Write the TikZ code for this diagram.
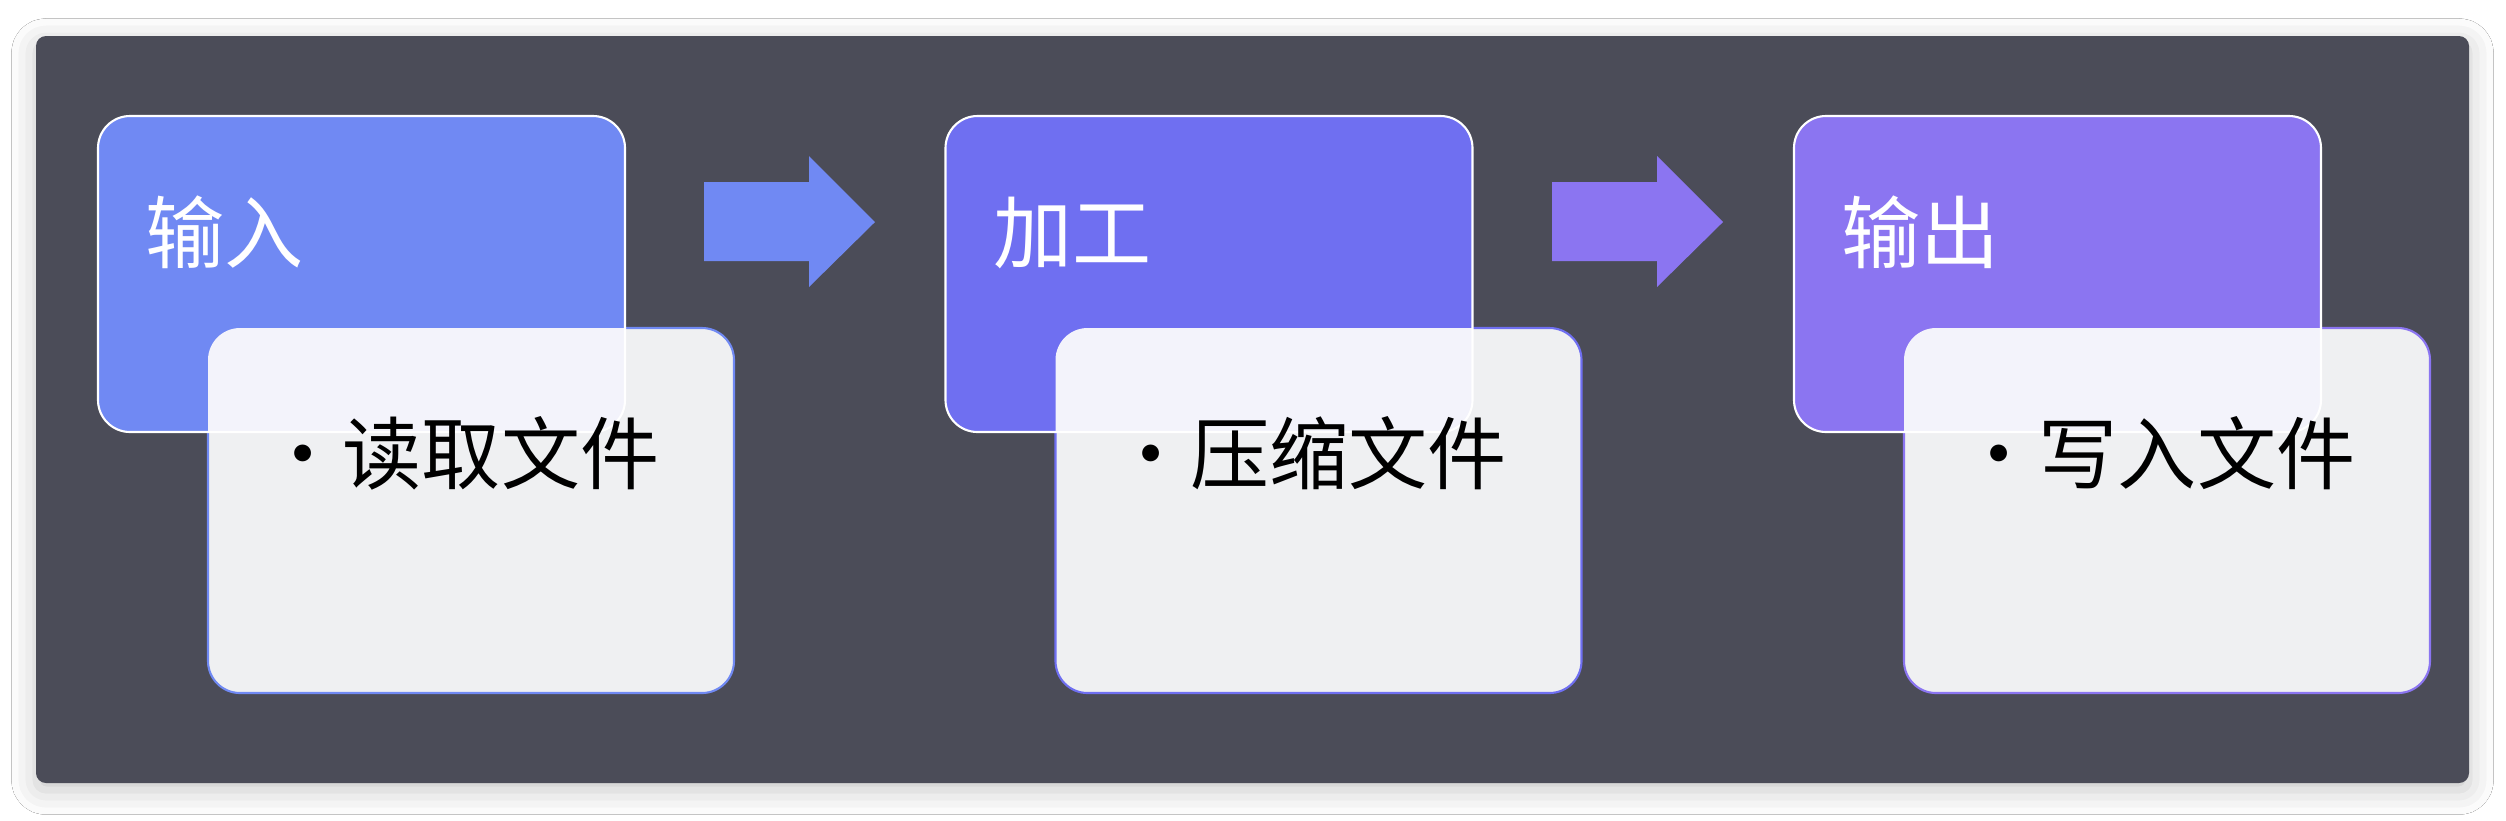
\documentclass[tikz,border=0pt]{standalone}
\usepackage{fontspec}
\newfontfamily\cjk{Noto Sans CJK SC}
\usetikzlibrary{shadows.blur}
\definecolor{bgdark}{HTML}{4B4C58}
\definecolor{cA}{HTML}{7089F3}
\definecolor{cB}{HTML}{6F6FF1}
\definecolor{cC}{HTML}{8B75F1}
\definecolor{cardfill}{HTML}{EFF0F2}
\definecolor{overlapfill}{HTML}{F3F3FB}
\tikzset{
  titletext/.style={text=white, font=\cjk\fontsize{22.5pt}{26pt}\selectfont, inner sep=0pt, anchor=base west},
  itemtext/.style={text=black, font=\cjk\fontsize{22.5pt}{26pt}\selectfont, inner sep=0pt, anchor=base west},
  boxround/.style={rounded corners=0.32cm},
  flowarrow/.style={draw=none},
}
\newcommand\mystage[5]{%
  \begin{scope}[xshift=#1]
    \fill[#2, boxround] (98,116) rectangle (625,432);
    \node[titletext] (#5t) at (145,262) {#3};
    \filldraw[fill=cardfill, draw=#2, line width=0.6pt, boxround] (208,328) rectangle (734,693);
    \begin{scope}
      \clip[boxround] (98,116) rectangle (625,432);
      \fill[overlapfill, boxround] (208,328) rectangle (734,693);
    \end{scope}
    \draw[white, line width=0.6pt, boxround] (98,116) rectangle (625,432);
    \node[itemtext] (#5i) at (263,483) {•#4};
  \end{scope}%
}
\begin{document}
\begin{tikzpicture}[x=0.01cm,y=-0.01cm]
\useasboundingbox (0,0) rectangle (2506,820);
\fill[white] (0,0) rectangle (2506,820);
\fill[bgdark, rounded corners=0.1cm, blur shadow={shadow xshift=0pt, shadow yshift=-2pt, shadow blur radius=7pt, shadow opacity=22}] (36,36) rectangle (2469,783);
\mystage{0cm}{cA}{输入}{读取文件}{s1}
\mystage{8.47cm}{cB}{加工}{压缩文件}{s2}
\mystage{16.95cm}{cC}{输出}{写入文件}{s3}
\fill[cA, flowarrow] (704,182) -- (809,182) -- (809,156) -- (875,222) -- (809,287) -- (809,261) -- (704,261) -- cycle;
\fill[cC, flowarrow] (1552,182) -- (1657,182) -- (1657,156) -- (1723,222) -- (1657,287) -- (1657,261) -- (1552,261) -- cycle;
\end{tikzpicture}
\end{document}
